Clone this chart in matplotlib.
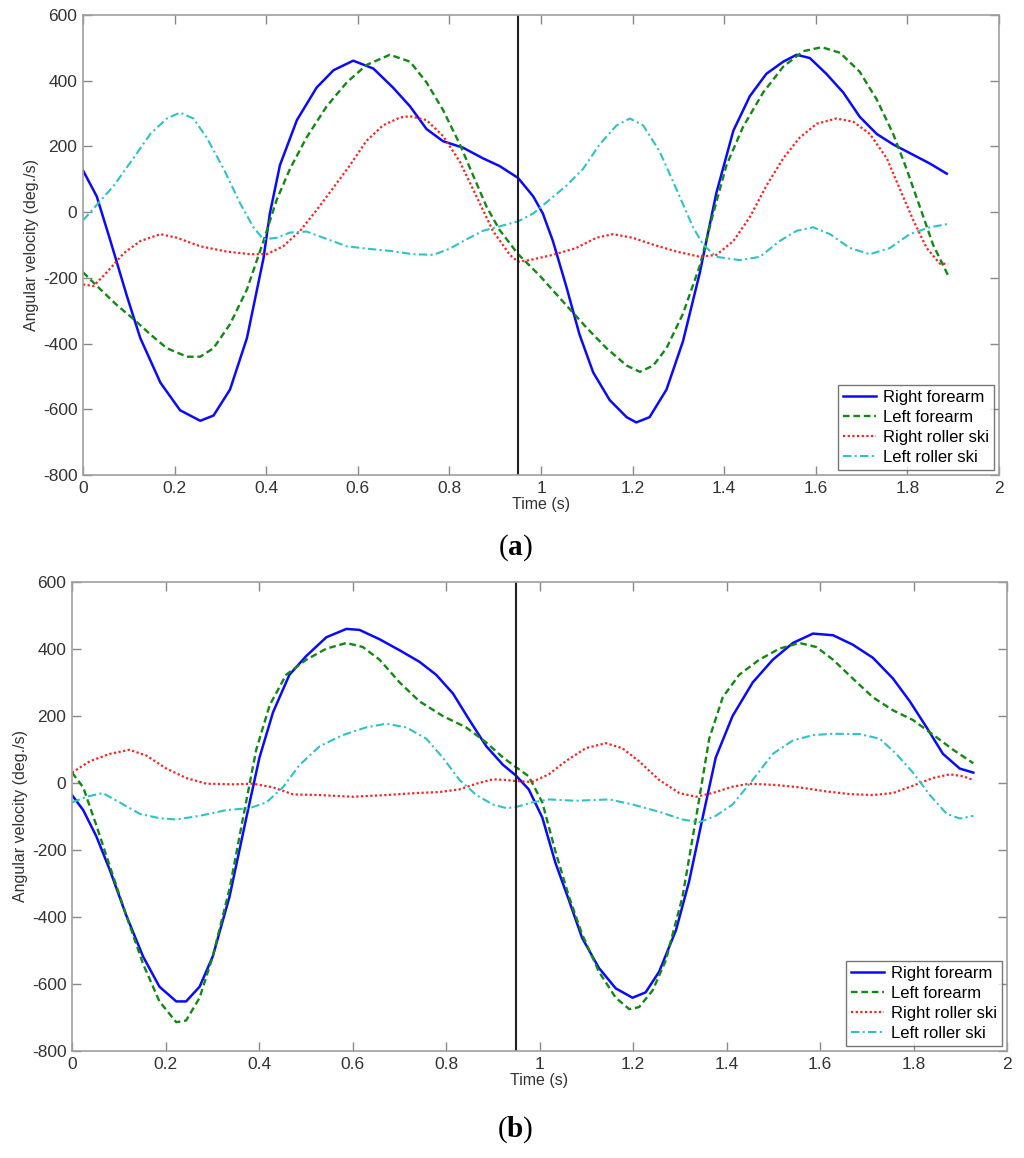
import numpy as np
import matplotlib
matplotlib.use('Agg')
from matplotlib import pyplot as plt

plt.rcParams['font.family'] = ['Liberation Sans', 'DejaVu Sans']
plt.rcParams['mathtext.fontset'] = 'custom'
plt.rcParams['mathtext.bf'] = 'Liberation Serif:bold'
plt.rcParams['mathtext.rm'] = 'Liberation Serif'
plt.rcParams['axes.unicode_minus'] = False

labels = ['Right forearm', 'Left forearm', 'Right roller ski', 'Left roller ski']
event_time = 0.95

# ---- panel (a) ----
a_rf_t = [0, .03, .06, .096, .125, .169, .212, .256, .285, .321, .358, .394, .408, .43, .467, .51, .547,
          .59, .634, .677, .714, .75, .786, .83, .873, .91, .95, .983, 1.004, 1.026, 1.055, 1.084, 1.114,
          1.15, 1.187, 1.208, 1.237, 1.274, 1.31, 1.347, 1.361, 1.383, 1.42, 1.456, 1.492, 1.529, 1.558,
          1.587, 1.623, 1.66, 1.696, 1.733, 1.769, 1.805, 1.849, 1.886]
a_rf_v = [127, 48, -88, -256, -383, -519, -603, -635, -619, -540, -383, -141, -4, 143, 280, 379, 432,
          461, 437, 379, 322, 253, 216, 196, 164, 140, 104, 48, -4, -88, -225, -372, -488,
          -572, -624, -640, -624, -540, -393, -183, -88, 59, 248, 353, 421, 458, 479,
          469, 421, 364, 290, 238, 206, 180, 148, 117]

a_lf_t = [0, .038, .074, .11, .147, .183, .227, .256, .285, .321, .358, .394, .423, .452, .488, .532,
          .576, .619, .67, .714, .75, .786, .823, .852, .881, .91, .95, .997, 1.055, 1.099, 1.143, 1.187,
          1.216, 1.245, 1.274, 1.31, 1.347, 1.376, 1.405, 1.441, 1.485, 1.529, 1.573, 1.613, 1.653,
          1.696, 1.733, 1.769, 1.798, 1.827, 1.856, 1.889]
a_lf_v = [-183, -235, -283, -325, -372, -414, -440, -440, -414, -341, -235, -88, 38, 132, 227, 322,
          395, 448, 479, 458, 395, 311, 206, 111, 17, -55, -128, -193, -283, -351, -414, -467,
          -486, -467, -414, -309, -162, -4, 143, 259, 364, 443, 490, 502, 485,
          427, 343, 238, 132, 17, -99, -193]

a_rr_t = [0, .023, .052, .089, .125, .169, .205, .256, .314, .365, .401, .437, .474, .51, .547, .583,
          .619, .655, .692, .714, .75, .786, .823, .859, .895, .932, .95, .975, 1.026, 1.077, 1.121,
          1.157, 1.2, 1.245, 1.296, 1.347, 1.383, 1.42, 1.456, 1.492, 1.529, 1.565, 1.602, 1.645,
          1.682, 1.718, 1.755, 1.784, 1.813, 1.842, 1.871, 1.889]
a_rr_v = [-220, -225, -183, -125, -88, -67, -78, -104, -120, -128, -128, -104, -57, 6, 75, 143,
          217, 264, 288, 292, 280, 232, 153, 48, -57, -130, -151, -146, -130, -109, -78,
          -67, -78, -99, -120, -136, -130, -88, -15, 80, 164, 227, 269, 285,
          275, 238, 164, 69, -25, -109, -157, -157]

a_lr_t = [0, .03, .067, .11, .147, .183, .212, .241, .27, .307, .343, .372, .394, .423, .452, .488,
          .525, .576, .619, .67, .721, .765, .801, .837, .873, .91, .95, .983, 1.019, 1.055, 1.092,
          1.128, 1.165, 1.194, 1.223, 1.259, 1.296, 1.332, 1.354, 1.383, 1.434, 1.478, 1.521, 1.558,
          1.594, 1.631, 1.674, 1.718, 1.762, 1.805, 1.849, 1.889]
a_lr_v = [-25, 22, 80, 164, 238, 285, 303, 285, 227, 132, 27, -46, -83, -78, -62, -59,
          -78, -104, -111, -118, -128, -130, -111, -83, -57, -43, -28, -4, 38, 80, 132,
          206, 264, 285, 264, 185, 69, -46, -99, -136, -146, -136, -88, -57,
          -46, -67, -109, -128, -109, -67, -46, -36]

# ---- panel (b) ----
b_rf_t = [0, .024, .052, .081, .116, .152, .187, .223, .244, .273, .301, .337, .373, .401, .43, .465,
          .501, .544, .587, .615, .658, .701, .743, .779, .815, .85, .886, .922, .949, .977, 1.006,
          1.034, 1.063, 1.091, 1.127, 1.163, 1.199, 1.227, 1.256, 1.292, 1.32, 1.349, 1.377, 1.413,
          1.456, 1.499, 1.542, 1.585, 1.628, 1.67, 1.713, 1.756, 1.792, 1.828, 1.863, 1.899, 1.928]
b_rf_v = [-36, -81, -159, -260, -395, -518, -608, -652, -652, -608, -518, -339, -103, 76, 211, 323,
          379, 435, 460, 457, 429, 396, 362, 323, 267, 188, 110, 54, 23, -19, -103,
          -238, -350, -462, -552, -613, -641, -625, -563, -439, -294, -103, 76, 200,
          300, 368, 418, 446, 441, 413, 374, 312, 244, 166, 87, 43, 31]

b_lf_t = [0, .024, .052, .081, .116, .152, .187, .223, .244, .273, .301, .337, .366, .394, .423, .458,
          .501, .544, .587, .622, .658, .701, .743, .793, .843, .886, .922, .949, .977, 1.006, 1.034,
          1.063, 1.091, 1.127, 1.163, 1.192, 1.213, 1.242, 1.27, 1.306, 1.335, 1.363, 1.392, 1.427,
          1.47, 1.513, 1.556, 1.592, 1.628, 1.67, 1.713, 1.756, 1.799, 1.842, 1.885, 1.928]
b_lf_v = [31, -13, -126, -249, -395, -540, -652, -714, -709, -641, -518, -316, -103, 99, 233, 323,
          368, 401, 418, 406, 368, 300, 244, 200, 166, 121, 76, 48, 20, -58, -204,
          -339, -451, -563, -641, -675, -669, -619, -530, -339, -103, 132, 256, 323,
          368, 401, 418, 406, 368, 312, 256, 217, 188, 144, 99, 59]

b_rr_t = [0, .038, .081, .123, .159, .202, .244, .287, .344, .387, .43, .473, .53, .601, .672, .736,
          .786, .829, .865, .9, .929, .949, .984, 1.02, 1.056, 1.099, 1.142, 1.177, 1.213, 1.256,
          1.299, 1.335, 1.37, 1.413, 1.449, 1.506, 1.556, 1.613, 1.663, 1.713, 1.756, 1.799, 1.842,
          1.878, 1.906, 1.928]
b_rr_v = [31, 65, 87, 99, 82, 43, 15, -2, -4, -2, -13, -34, -36, -41, -36, -30,
          -27, -19, -2, 11, 9, 6, 3, 26, 65, 104, 119, 104, 65, 9,
          -30, -41, -30, -11, -2, -6, -13, -25, -33, -36, -30, -8, 15,
          26, 20, 9]

b_lr_t = [0, .031, .066, .102, .145, .187, .223, .273, .33, .38, .416, .451, .487, .53, .579, .629,
          .672, .715, .758, .793, .829, .865, .9, .929, .949, .984, 1.02, 1.077, 1.149, 1.199, 1.256,
          1.306, 1.342, 1.377, 1.413, 1.456, 1.499, 1.542, 1.585, 1.628, 1.685, 1.728, 1.763, 1.799,
          1.835, 1.871, 1.899, 1.928]
b_lr_v = [-58, -41, -30, -58, -92, -105, -109, -98, -81, -75, -58, -13, 54, 110, 143, 166,
          177, 166, 132, 76, 9, -36, -64, -75, -72, -58, -49, -53, -49, -64, -86,
          -109, -117, -98, -64, 9, 87, 127, 143, 147, 146, 132, 87, 31,
          -36, -92, -106, -98]

xticks = [0, 0.2, 0.4, 0.6, 0.8, 1, 1.2, 1.4, 1.6, 1.8, 2]
xticklabels = ['0', '0.2', '0.4', '0.6', '0.8', '1', '1.2', '1.4', '1.6', '1.8', '2']
yticks = [-800, -600, -400, -200, 0, 200, 400, 600]

styles = [
    dict(color='#0a0aff', lw=1.8, ls='-'),
    dict(color='#118a11', lw=1.7, ls=(0, (2.8, 1.6))),
    dict(color='#ff2020', lw=1.6, ls=(0, (1, 1.1))),
    dict(color='#2cc4c4', lw=1.5, ls=(0, (4, 1.6, 1, 1.6))),
]


def panel(ax, series):
    for (t, v), lab, st in zip(series, labels, styles):
        ax.plot(t, v, label=lab, **st)
    ax.axvline(event_time, color='#202020', lw=1.5)
    ax.set_xlim(0, 2)
    ax.set_ylim(-800, 600)
    ax.set_xticks(xticks)
    ax.set_xticklabels(xticklabels)
    ax.set_yticks(yticks)
    ax.tick_params(direction='in', length=6.5, width=1, color='#888888', labelcolor='#333333',
                   labelsize=12.5, top=True, right=True, pad=4)
    for s in ax.spines.values():
        s.set_color('#a0a0a0')
        s.set_linewidth(1.2)
    ax.set_xlabel('Time (s)', fontsize=11.5, color='#333333', labelpad=1)
    ax.set_ylabel('Angular velocity (deg./s)', fontsize=11.5, color='#333333', labelpad=3)
    leg = ax.legend(loc='lower right', fontsize=12, frameon=True, fancybox=False,
                    borderaxespad=0.3, handlelength=2.0, handletextpad=0.4, labelspacing=0.3,
                    borderpad=0.3)
    leg.get_frame().set_edgecolor('#555555')
    leg.get_frame().set_linewidth(1.0)


fig = plt.figure(figsize=(10.24, 11.58), dpi=100)
ax1 = fig.add_axes([83 / 1024, 1 - 475 / 1158, 916 / 1024, 460 / 1158])
ax2 = fig.add_axes([72 / 1024, 1 - 1051 / 1158, 935 / 1024, 469 / 1158])

panel(ax1, [(a_rf_t, a_rf_v), (a_lf_t, a_lf_v), (a_rr_t, a_rr_v), (a_lr_t, a_lr_v)])
panel(ax2, [(b_rf_t, b_rf_v), (b_lf_t, b_lf_v), (b_rr_t, b_rr_v), (b_lr_t, b_lr_v)])

fig.text(515 / 1024, 1 - 548 / 1158, r'($\mathbf{a}$)', ha='center', va='center',
         fontsize=21, family='Liberation Serif')
fig.text(515 / 1024, 1 - 1130 / 1158, r'($\mathbf{b}$)', ha='center', va='center',
         fontsize=21, family='Liberation Serif')

fig.savefig('out.png', dpi=100)
